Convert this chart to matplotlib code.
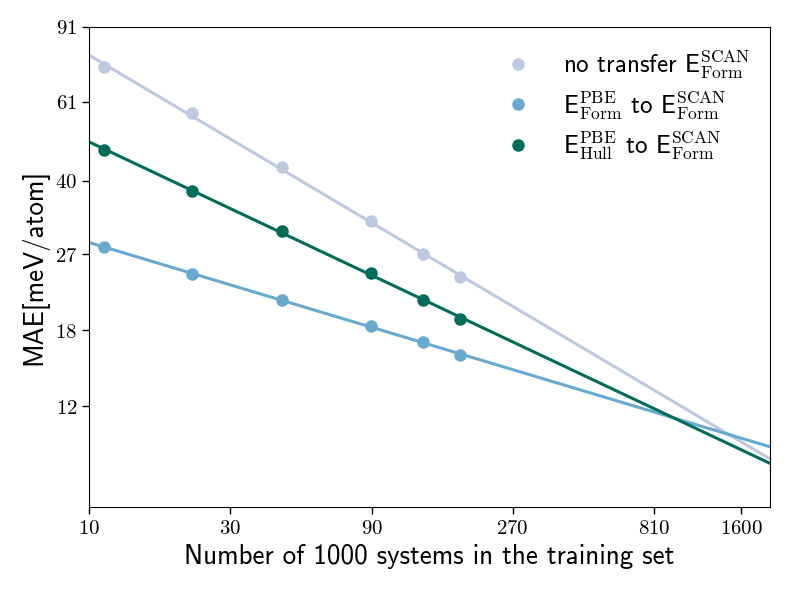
import numpy as np
import matplotlib
matplotlib.use("Agg")
import matplotlib.pyplot as plt

# training set size (thousands of systems)
n_train = [11.2, 22.3, 44.7, 89.3, 134, 179]

# MAE in meV/atom
mae_no_transfer = [73.2, 57.3, 43.0, 32.3, 27.1, 23.9]
mae_form_pbe = [28.1, 24.3, 21.2, 18.4, 16.9, 15.8]
mae_hull_pbe = [47.1, 37.9, 30.6, 24.5, 21.2, 19.1]

labels = [
    r"no transfer E$^{\rm SCAN}_{\rm Form}$",
    r"E$^{\rm PBE}_{\rm Form}$ to E$^{\rm SCAN}_{\rm Form}$",
    r"E$^{\rm PBE}_{\rm Hull}$ to E$^{\rm SCAN}_{\rm Form}$",
]
colors = ["#bdc9e1", "#67a9cf", "#016c59"]

xticks = [10, 30, 90, 270, 810, 1600]
yticks = [12, 18, 27, 40, 61, 91]

plt.rcParams["font.family"] = "cmss10"
plt.rcParams["mathtext.fontset"] = "cm"
plt.rcParams["axes.unicode_minus"] = False

fig = plt.figure(figsize=(7.89, 5.92), dpi=100)
ax = fig.add_axes([0.113, 0.143, 0.863, 0.812])
ax.set_xscale("log")
ax.set_yscale("log")
ax.set_xlim(10, 2000)
ax.set_ylim(7, 91)

xfit = np.array(ax.get_xlim())
for y, c, lab in zip([mae_no_transfer, mae_form_pbe, mae_hull_pbe], colors, labels):
    p = np.polyfit(np.log(n_train), np.log(y), 1)
    ax.plot(xfit, np.exp(np.polyval(p, np.log(xfit))), color=c, lw=2.2)
    ax.plot(n_train, y, "o", color=c, ms=8, label=lab)

ax.minorticks_off()
ax.set_xticks(xticks)
ax.set_xticklabels(["$%d$" % t for t in xticks], fontsize=15)
ax.set_yticks(yticks)
ax.set_yticklabels(["$%d$" % t for t in yticks], fontsize=15)
ax.tick_params(length=5, width=1)

ax.set_xlabel("Number of 1000 systems in the training set", fontsize=19.5)
ax.set_ylabel("MAE[meV/atom]", fontsize=19.5, labelpad=5)

ax.legend(loc="upper right", bbox_to_anchor=(0.986, 0.976), frameon=False,
          fontsize=18, handletextpad=0.8, labelspacing=0.33, borderaxespad=0)

fig.savefig("out.png", dpi=100)
